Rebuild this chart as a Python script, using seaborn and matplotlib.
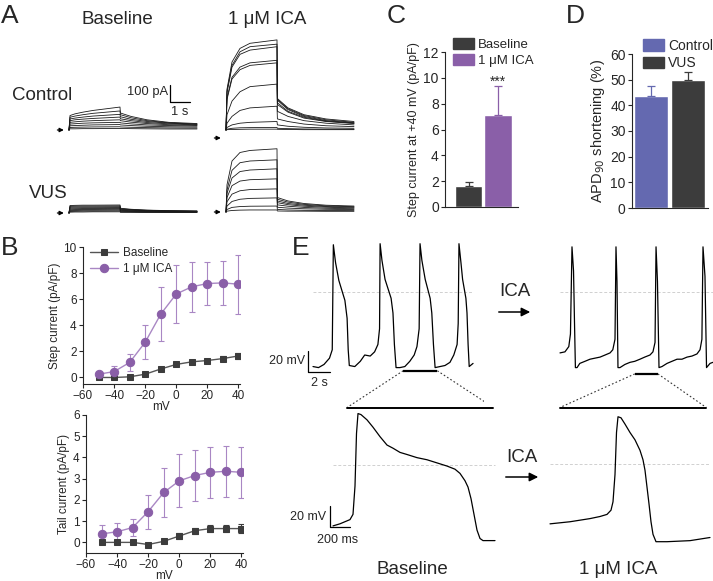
import numpy as np
import seaborn as sns
import matplotlib.pyplot as plt
from matplotlib.patches import Patch
from matplotlib.lines import Line2D

W, H = 713, 581

# ---- panel B : I-V data (mV, pA/pF) ----
mv = [-50, -40, -30, -20, -10, 0, 10, 20, 30, 40]
step_base = [0.0, 0.0, 0.05, 0.25, 0.65, 1.0, 1.2, 1.3, 1.45, 1.65]
step_base_err = [0.1, 0.1, 0.1, 0.1, 0.12, 0.15, 0.15, 0.15, 0.18, 0.2]
step_ica = [0.25, 0.45, 1.15, 2.7, 4.85, 6.4, 6.95, 7.2, 7.25, 7.15]
step_ica_err = [0.2, 0.4, 0.65, 1.3, 2.05, 2.25, 1.9, 1.65, 1.7, 2.25]
tail_base = [0.0, 0.0, 0.0, -0.1, 0.05, 0.3, 0.55, 0.65, 0.65, 0.65]
tail_base_err = [0.05, 0.05, 0.05, 0.08, 0.1, 0.12, 0.15, 0.18, 0.18, 0.2]
tail_ica = [0.4, 0.5, 0.7, 1.45, 2.35, 2.9, 3.15, 3.3, 3.35, 3.3]
tail_ica_err = [0.4, 0.4, 0.4, 0.8, 1.15, 1.25, 1.2, 1.2, 1.2, 1.2]

# ---- panel C / D bars ----
c_groups = ['Baseline', '1 \u03bcM ICA']
c_means = [1.65, 7.15]
c_errs = [0.25, 2.2]
d_groups = ['Control', 'VUS']
d_means = [43.8, 49.8]
d_errs = [3.7, 3.0]

# ---- panel A : current traces (s, pA) ----
step_t = [0, 0.05, 0.3, 0.7, 1.2, 2.55]
tail_t = [2.57, 3.1, 3.9, 5.0, 6.4]
ctrl_base_step = [[0, 85, 95, 105, 115, 135], [0, 75, 82, 90, 98, 112], [0, 65, 70, 76, 82, 92],
                  [0, 55, 60, 64, 68, 76], [0, 45, 48, 52, 55, 60], [0, 35, 37, 40, 42, 45],
                  [0, 25, 26, 28, 30, 32], [0, 15, 16, 17, 18, 19], [0, 7, 7, 8, 8, 9]]
ctrl_base_tail = [[100, 80, 60, 45, 38], [90, 72, 55, 42, 35], [78, 63, 50, 40, 33],
                  [66, 55, 44, 36, 30], [55, 46, 38, 31, 27], [42, 36, 30, 26, 23],
                  [30, 26, 22, 19, 17], [18, 16, 14, 12, 11], [9, 8, 7, 6, 6]]
ctrl_ica_step = [[0, 240, 400, 480, 510, 530], [0, 230, 380, 460, 490, 505], [0, 220, 370, 445, 470, 490],
                 [0, 190, 310, 370, 395, 410], [0, 180, 300, 355, 380, 395], [0, 90, 170, 225, 255, 270],
                 [0, 40, 80, 115, 130, 140], [0, 15, 30, 40, 45, 50], [0, 5, 10, 13, 14, 15],
                 [0, 2, 3, 4, 5, 5]]
ctrl_ica_tail = [[185, 130, 90, 65, 50], [180, 125, 85, 60, 45], [175, 120, 80, 55, 42],
                 [160, 110, 75, 52, 40], [150, 105, 70, 50, 38], [110, 80, 55, 40, 30],
                 [65, 50, 35, 25, 20], [30, 22, 16, 12, 10], [10, 8, 6, 5, 4], [4, 3, 2, 2, 2]]
vus_base_step = [[0, 44, 45, 46, 46, 47], [0, 39, 40, 41, 41, 42], [0, 34, 35, 36, 36, 37],
                 [0, 29, 30, 31, 31, 32], [0, 24, 25, 26, 26, 27], [0, 19, 20, 21, 21, 22],
                 [0, 14, 15, 16, 16, 17], [0, 9, 10, 11, 11, 12], [0, 5, 6, 6, 7, 7]]
vus_base_tail = [[28, 22, 17, 14, 12], [25, 20, 16, 13, 11], [22, 18, 14, 12, 10],
                 [19, 16, 13, 11, 9], [16, 13, 11, 9, 8], [13, 11, 9, 8, 7],
                 [10, 9, 7, 6, 5], [7, 6, 5, 4, 4], [4, 4, 3, 3, 3]]
vus_ica_step = [[0, 160, 300, 350, 362, 372], [0, 130, 245, 290, 300, 307], [0, 110, 200, 238, 247, 254],
                [0, 85, 155, 182, 190, 195], [0, 60, 105, 125, 132, 136], [0, 35, 62, 75, 80, 83],
                [0, 15, 27, 32, 34, 35], [0, 5, 9, 11, 12, 12]]
vus_ica_tail = [[85, 65, 50, 40, 35], [75, 58, 45, 36, 31], [65, 50, 40, 32, 28],
                [55, 43, 34, 28, 24], [42, 34, 27, 22, 19], [28, 23, 19, 16, 14],
                [15, 12, 10, 9, 8], [6, 5, 5, 4, 4]]

# ---- panel E : action potentials (s, mV) ----
ap_base_t = [0, 0.5, 1.0, 1.5, 1.75, 1.85, 2.05, 2.35, 2.9, 3.1, 3.2, 3.3, 3.8, 4.3, 4.7, 5.2, 5.6,
             5.9, 6.05, 6.1, 6.27, 6.55, 7.1, 7.27, 7.4, 7.55, 7.9, 8.35, 8.8, 9.2, 9.45, 9.65, 9.73,
             9.9, 10.2, 10.65, 10.8, 10.95, 11.1, 11.55, 12.0, 12.45, 12.8, 13.1, 13.2, 13.27, 13.45,
             13.6, 13.9, 14.0, 14.1, 14.2, 14.55]
ap_base_v = [-71, -72, -69, -63, -55, 45, 28, 11, -8, -25, -55, -70, -71, -66, -60, -61, -57,
             -50, -35, 46, 30, 12, -6, -20, -50, -72, -72, -71, -66, -60, -52, -35, 46,
             30, 12, -6, -20, -50, -72, -71, -70, -67, -60, -50, -30, 46, 28,
             12, -6, -20, -50, -71, -68]
ap_ica_t = [0, 0.45, 0.8, 0.95, 1.09, 1.23, 1.32, 1.4, 1.55, 1.8, 2.27, 2.73, 3.18, 3.64, 4.1, 4.55,
            4.8, 5.0, 5.09, 5.18, 5.27, 5.45, 5.9, 6.36, 6.8, 7.27, 7.7, 8.18, 8.45, 8.64, 8.73, 8.86,
            9.0, 9.27, 9.73, 10.18, 10.64, 11.09, 11.55, 12.0, 12.45, 12.73, 12.9, 13.0, 13.18, 13.32,
            13.64]
ap_ica_v = [-58, -57, -52, -40, 43, 20, -30, -72, -72, -68, -66, -64, -63, -62, -60, -58,
            -55, -45, 43, 10, -72, -72, -69, -67, -66, -64, -62, -60, -57, -48, 43, 10,
            -72, -71, -68, -66, -64, -64, -62, -61, -59, -55, -45, 43, 15, -72,
            -68]
zoom_base_t = [0, 0.07, 0.12, 0.17, 0.2, 0.22, 0.235, 0.25, 0.28, 0.34, 0.40, 0.47, 0.54, 0.60, 0.67,
               0.74, 0.84, 0.94, 1.04, 1.14, 1.22, 1.27, 1.32, 1.35, 1.38, 1.41, 1.44, 1.47, 1.50, 1.62]
zoom_base_v = [-58, -56, -54, -52, -47, -20, 30, 49, 48, 43, 36, 27, 19, 16, 12,
               10, 7, 5, 2, -1, -4, -8, -15, -21, -32, -47, -62, -70, -72, -72]
zoom_ica_t = [0, 0.2, 0.4, 0.5, 0.57, 0.61, 0.63, 0.65, 0.665, 0.68, 0.71, 0.75, 0.80, 0.85, 0.90,
              0.93, 0.95, 0.97, 0.99, 1.01, 1.03, 1.06, 1.17, 1.40, 1.60]
zoom_ica_v = [-57, -55, -52, -50, -48, -44, -36, -10, 30, 45, 44, 38, 30, 23, 13,
              4, -6, -22, -38, -55, -67, -74, -74, -73, -70]
win_base = (8.2, 11.3)
win_ica = (6.8, 8.9)

DARK = '#3c3c3c'
PURPLE = '#8a5fa8'
PURPLE_LIGHT = '#a987c4'
BLUE = '#6469b0'

sns.set_style('ticks')
plt.rcParams['font.family'] = ['Liberation Sans', 'DejaVu Sans']
plt.rcParams['xtick.major.size'] = 3
plt.rcParams['ytick.major.size'] = 3

fig = plt.figure(figsize=(W / 100, H / 100), dpi=100)


def px_box(x0, y0, x1, y1):
    return fig.add_axes([x0 / W, 1 - y1 / H, (x1 - x0) / W, (y1 - y0) / H])


def trace_axes(ox, oy, sx, sy, xlim, ylim):
    ax = px_box(ox + xlim[0] * sx, oy - ylim[1] * sy, ox + xlim[1] * sx, oy - ylim[0] * sy)
    ax.set_xlim(xlim)
    ax.set_ylim(ylim)
    ax.axis('off')
    return ax


def fpx(x, y):
    return (x / W, 1 - y / H)


def ftext(x, y, s, size, **kw):
    fig.text(x / W, 1 - y / H, s, fontsize=size, ha=kw.pop('ha', 'center'), va=kw.pop('va', 'center'), **kw)


# panel letters
for lab, x, y in [('A', 10, 16), ('B', 10, 248), ('C', 396, 16), ('D', 575, 16), ('E', 301, 248)]:
    ftext(x, y, lab, 19)

# ---------------- panel A ----------------
ftext(117, 19, 'Baseline', 13.5)
ftext(267, 19, '1 \u03bcM ICA', 13.5)
ftext(42, 96, 'Control', 13.5)
ftext(48, 194, 'VUS', 13.5)

a_panels = [(69, 130, ctrl_base_step, ctrl_base_tail, 0),
            (226, 130, ctrl_ica_step, ctrl_ica_tail, -47),
            (69, 213, vus_base_step, vus_base_tail, 0),
            (226, 212, vus_ica_step, vus_ica_tail, 0)]
for i, (ox, oy, steps, tails, zero) in enumerate(a_panels):
    ax = trace_axes(ox, oy, 20, 0.17, (-1.0, 6.6), (-70, 560))
    for s, tl in zip(steps, tails):
        sns.lineplot(x=step_t + tail_t, y=s + tl, color='#1a1a1a', lw=0.6, ax=ax,
                     sort=False, estimator=None)
    ax.annotate('', xy=(-0.12, zero), xytext=(-0.72, zero),
                arrowprops=dict(arrowstyle='-|>', color='k', lw=0.9, mutation_scale=6))
    if i == 0:
        ax.plot([5.05, 5.05, 6.05], [165 + 100, 165, 165], color='k', lw=0.9)
        ax.text(4.95, 222, '100 pA', fontsize=9.3, ha='right', va='center')
        ax.text(5.55, 106, '1 s', fontsize=9.3, ha='center', va='center')

# ---------------- panel B ----------------
def iv_plot(ax, base, base_err, ica, ica_err, ylim, yticks, ylabel, legend):
    ax.errorbar(mv, ica, yerr=ica_err, fmt='none', ecolor=PURPLE_LIGHT, elinewidth=0.8, capsize=2, capthick=0.8)
    ax.errorbar(mv, base, yerr=base_err, fmt='none', ecolor=DARK, elinewidth=0.8, capsize=2, capthick=0.8)
    sns.lineplot(x=mv, y=base, color='#555555', lw=1.0, marker='s', markersize=5,
                 markerfacecolor=DARK, markeredgecolor=DARK, ax=ax, label='Baseline')
    sns.lineplot(x=mv, y=ica, color=PURPLE_LIGHT, lw=1.0, marker='o', markersize=6,
                 markerfacecolor=PURPLE, markeredgecolor=PURPLE, ax=ax, label='1 \u03bcM ICA')
    ax.set_xlim(-60, 41)
    ax.set_ylim(*ylim)
    ax.set_xticks([-60, -40, -20, 0, 20, 40])
    ax.set_yticks(yticks)
    ax.tick_params(labelsize=8.5, length=3, width=0.8, pad=1.5)
    ax.set_xlabel('mV', fontsize=8.5, labelpad=-1)
    ax.set_ylabel(ylabel, fontsize=8.5, labelpad=2)
    sns.despine(ax=ax)
    if legend:
        ax.legend(loc='upper left', bbox_to_anchor=fpx(84, 241), bbox_transform=fig.transFigure,
                  frameon=False, fontsize=8.5, handlelength=2.4, handletextpad=0.4,
                  labelspacing=0.35, borderpad=0)
    else:
        ax.get_legend().remove()


ax_b1 = px_box(83, 247, 240, 384)
iv_plot(ax_b1, step_base, step_base_err, step_ica, step_ica_err, (-0.5, 10), range(0, 11, 2),
        'Step current (pA/pF)', True)
ax_b2 = px_box(86, 415, 243, 553)
iv_plot(ax_b2, tail_base, tail_base_err, tail_ica, tail_ica_err, (-0.5, 6), range(0, 7),
        'Tail current (pA/pF)', False)

# ---------------- panel C / D ----------------
def bar_panel(ax, groups, means, errs, colors, ylim, yticks, ylabel, lab_size, width):
    sns.barplot(x=groups, y=means, hue=groups, palette=colors, width=width, ax=ax,
                legend=False, errorbar=None, saturation=1)
    for i in range(len(means)):
        ax.errorbar([i], [means[i]], yerr=[[0], [errs[i]]], fmt='none', ecolor=colors[i],
                    elinewidth=0.9, capsize=3, capthick=0.9)
    ax.set_ylim(*ylim)
    ax.set_yticks(yticks)
    ax.set_xticks([])
    ax.set_xlabel('')
    ax.tick_params(labelsize=10, length=3, width=0.8, pad=1.5)
    ax.set_ylabel(ylabel, fontsize=lab_size, labelpad=2)
    sns.despine(ax=ax)


ax_c = px_box(445, 52, 518, 207)
bar_panel(ax_c, c_groups, c_means, c_errs, [DARK, PURPLE], (0, 12), range(0, 13, 2),
          'Step current at +40 mV (pA/pF)', 9, 0.93)
ax_c.set_xlim(-0.8, 1.68)
ax_c.text(1, 9.35, '***', ha='center', va='baseline', fontsize=10)
ax_c.legend(handles=[Patch(color=DARK), Patch(color=PURPLE)], labels=c_groups,
            loc='upper left', bbox_to_anchor=fpx(446, 31), bbox_transform=fig.transFigure,
            frameon=False, fontsize=9.5, handlelength=1.6, handleheight=0.9, handletextpad=0.3,
            labelspacing=0.25, borderpad=0)

ax_d = px_box(632, 54, 708, 208)
bar_panel(ax_d, d_groups, d_means, d_errs, [BLUE, DARK], (0, 60), range(0, 61, 10),
          'APD$_{90}$ shortening (%)', 10.5, 0.9)
ax_d.set_xlim(-0.51, 1.54)
ax_d.legend(handles=[Patch(color=BLUE), Patch(color=DARK)], labels=d_groups,
            loc='upper left', bbox_to_anchor=fpx(636, 32), bbox_transform=fig.transFigure,
            frameon=False, fontsize=10, handlelength=1.5, handleheight=0.9, handletextpad=0.3,
            labelspacing=0.25, borderpad=0)

# ---------------- panel E ----------------
def ap_trace(ax, t, v):
    ax.hlines(0, min(t), max(t), colors='#d0d0d0', linestyles=(0, (3, 2)), lw=0.7)
    sns.lineplot(x=t, y=v, color='k', lw=0.9, ax=ax, sort=False, estimator=None)


ax_e1 = trace_axes(313, 292, 11, 1.05, (-1.5, 15.5), (-120, 50))
ap_trace(ax_e1, ap_base_t, ap_base_v)
ax_e1.plot([-0.45, -0.45, 1.55], [-56, -76, -76], color='k', lw=0.9)
ax_e1.text(-0.75, -66, '20 mV', fontsize=9, ha='right', va='center')
ax_e1.text(0.55, -86.5, '2 s', fontsize=9, ha='center', va='center')
ax_e1.plot(win_base, [-75, -75], color='k', lw=1.6, solid_capstyle='butt')
ax_e1.plot([win_base[0], 3.1], [-75, -110], color='#333333', lw=0.8, ls=(0, (1.5, 2)))
ax_e1.plot([win_base[1], 16.4], [-75, -110], color='#333333', lw=0.8, ls=(0, (1.5, 2)))
ax_e1.plot([3.1, 16.4], [-110, -110], color='k', lw=1.4, clip_on=False)

ax_e2 = trace_axes(560, 292, 11, 1.05, (-1.0, 14.0), (-120, 50))
ap_trace(ax_e2, ap_ica_t + [13.9], ap_ica_v + [-67])
ax_e2.plot(win_ica, [-78, -78], color='k', lw=1.6, solid_capstyle='butt')
ax_e2.plot([win_ica[0], 0], [-78, -110], color='#333333', lw=0.8, ls=(0, (1.5, 2)))
ax_e2.plot([win_ica[1], 13.3], [-78, -110], color='#333333', lw=0.8, ls=(0, (1.5, 2)))
ax_e2.plot([0, 13.3], [-110, -110], color='k', lw=1.4)

ax_e3 = trace_axes(333, 465, 100, 1.05, (-0.15, 1.7), (-85, 60))
ap_trace(ax_e3, zoom_base_t, zoom_base_v)
ax_e3.plot([-0.03, -0.03, 0.17], [-39, -59, -59], color='k', lw=0.9)
ax_e3.text(-0.065, -50, '20 mV', fontsize=9, ha='right', va='center')
ax_e3.text(0.05, -71.5, '200 ms', fontsize=9, ha='center', va='center')

ax_e4 = trace_axes(550, 464, 100, 1.05, (-0.05, 1.63), (-85, 60))
ap_trace(ax_e4, zoom_ica_t, zoom_ica_v)

for tx, ty, x0, x1, y in [(515, 291, 496, 533, 312), (522, 457, 503, 541, 477)]:
    ftext(tx, ty, 'ICA', 13.5)
    fig.add_artist(plt.Annotation('', xy=fpx(x1, y), xytext=fpx(x0, y), xycoords='figure fraction',
                                  textcoords='figure fraction',
                                  arrowprops=dict(arrowstyle='-|>', color='k', lw=1.1, mutation_scale=13)))

ftext(412, 569, 'Baseline', 13.5)
ftext(618, 569, '1 \u03bcM ICA', 13.5)

fig.savefig('out.png', dpi=100)
